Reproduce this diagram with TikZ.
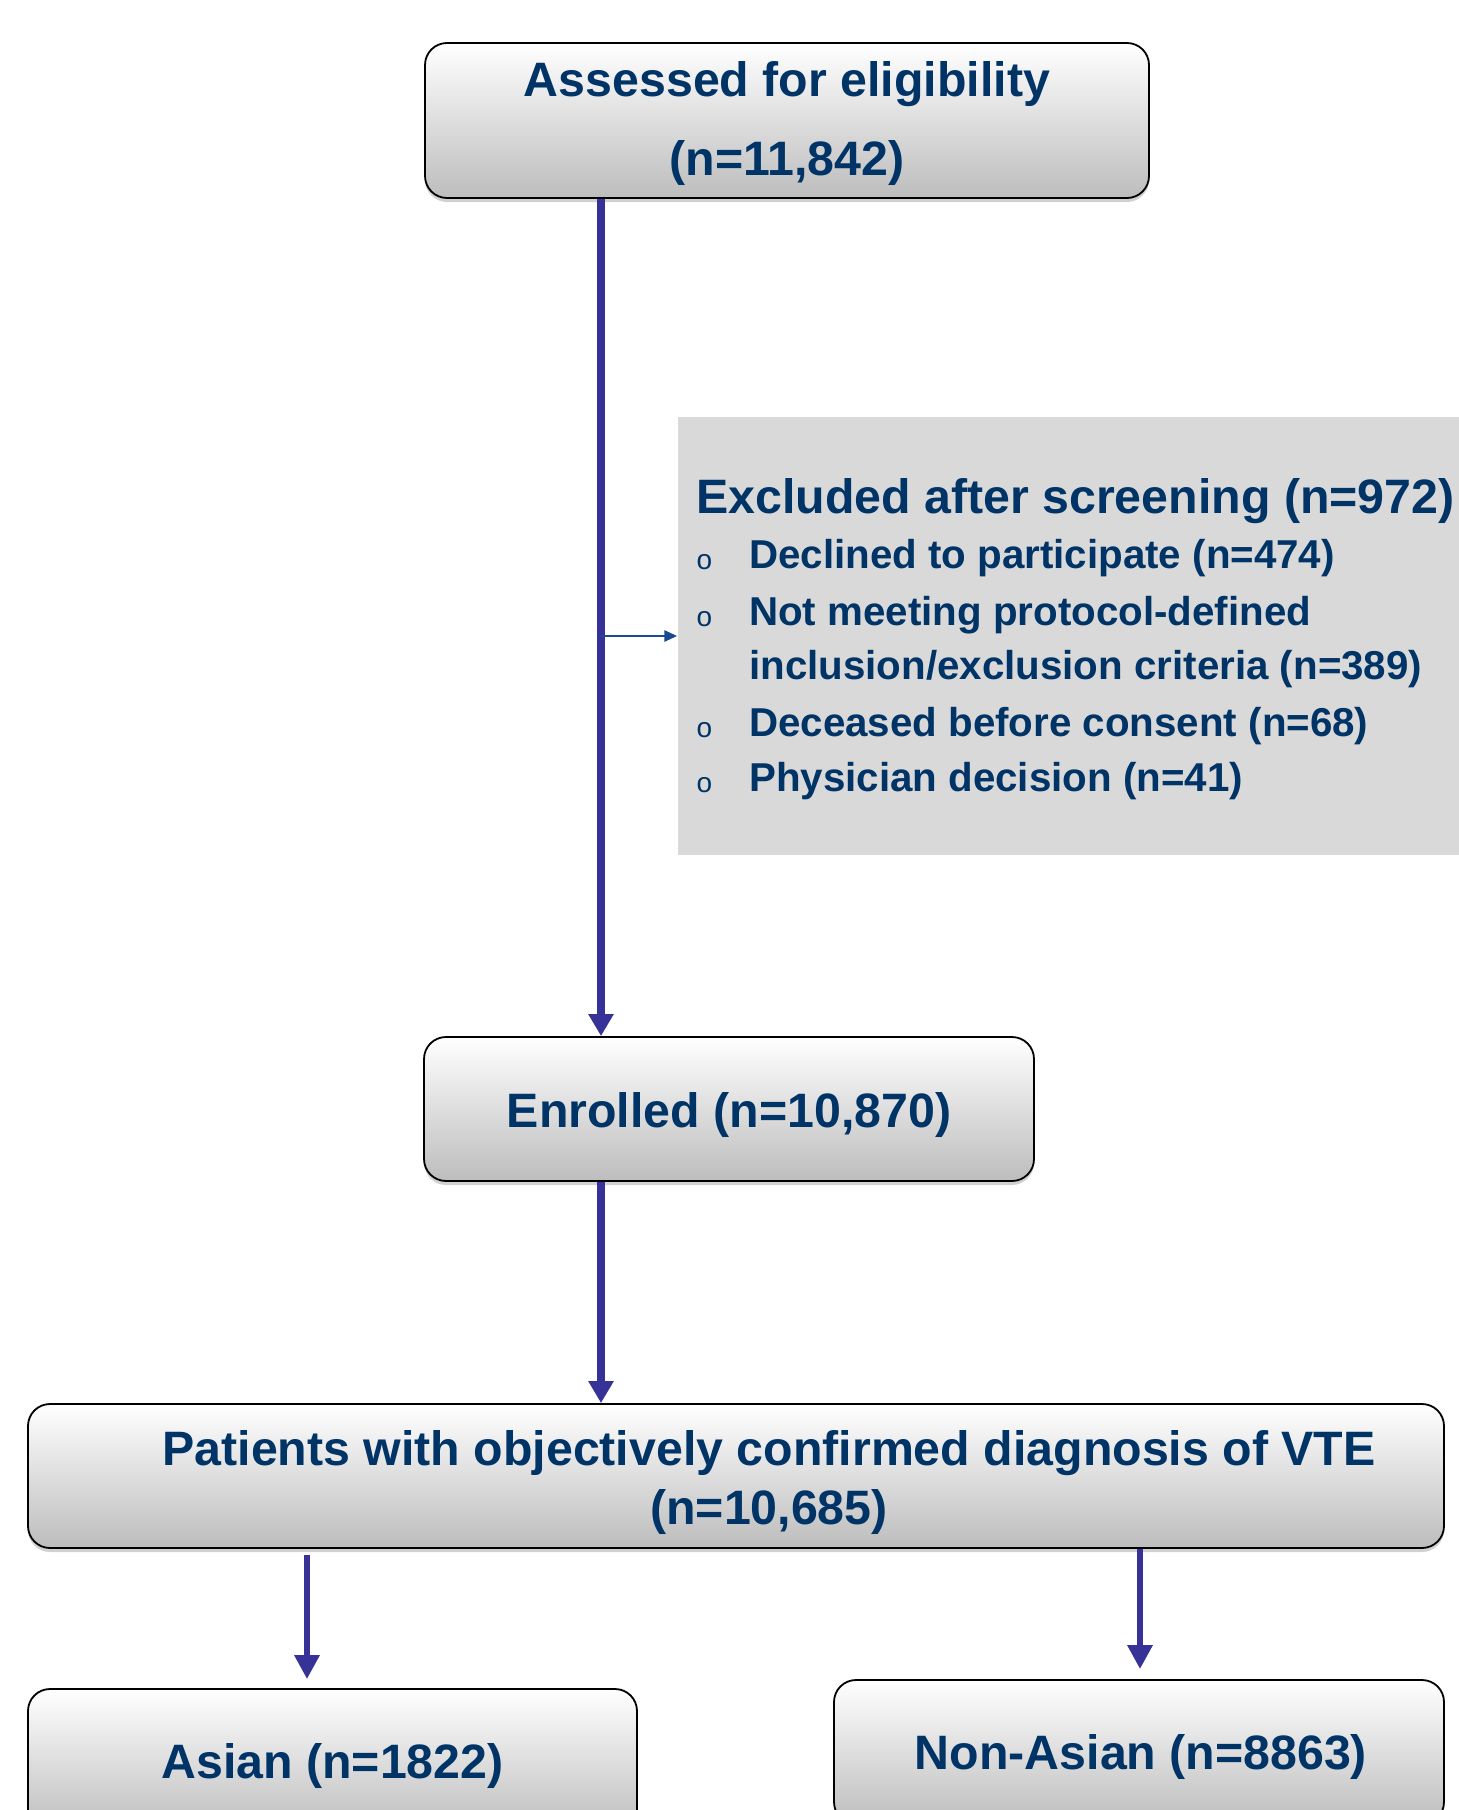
\documentclass[tikz,border=0pt]{standalone}
\usepackage{fontspec}
\setmainfont{Liberation Sans}
\usetikzlibrary{arrows.meta,shadows}
\definecolor{navy}{RGB}{0,51,102}
\definecolor{flow}{RGB}{55,50,152}
\definecolor{thinblue}{RGB}{25,75,145}
\definecolor{exgray}{RGB}{217,217,217}
\begin{document}
\begin{tikzpicture}[x=1pt,y=-1pt,
  flowbox/.style={draw=black, line width=1.8pt, rounded corners=22pt,
    top color=white, bottom color=black!26,
    drop shadow={shadow xshift=0pt, shadow yshift=-4pt, opacity=0.3, fill=black!60},
    inner sep=0pt},
  bigtxt/.style={font=\bfseries\fontsize{48.3}{58}\selectfont, text=navy, inner sep=0pt, anchor=base},
  itemtxt/.style={font=\bfseries\fontsize{40.3}{48}\selectfont, text=navy, inner sep=0pt, anchor=base west},
  bullettxt/.style={font=\fontsize{28}{32}\selectfont, text=navy, inner sep=0pt, anchor=base},
  mainarrow/.style={draw=flow, line width=7.5pt, -{Triangle[length=22pt,width=24pt]}},
  subarrow/.style={draw=flow, line width=6pt, -{Triangle[length=24pt,width=24pt]}},
  exarrow/.style={draw=thinblue, line width=2.8pt, -{Triangle[length=13pt,width=11pt]}}]
\useasboundingbox (0,0) rectangle (1459,1810);
\begin{scope}
\clip (0,0) rectangle (1459,1810);
% boxes
\node[flowbox, minimum width=724pt, minimum height=155pt] (topbox) at (787,120.5) {};
\node[flowbox, minimum width=610pt, minimum height=144pt] (enr) at (729,1109) {};
\node[flowbox, minimum width=1416pt, minimum height=144pt] (pat) at (736,1476) {};
\node[flowbox, minimum width=609pt, minimum height=144pt] (asian) at (332.5,1761) {};
\node[flowbox, minimum width=610pt, minimum height=144pt] (nonasian) at (1139,1752) {};
\node[fill=exgray, minimum width=792.5pt, minimum height=438pt, inner sep=0pt] (excl) at (1073.75,636) {};
% texts
\node[bigtxt] (t1) at (787,96.7) {Assessed for eligibility};
\node[bigtxt] (t2) at (787,175) {(n=11,842)};
\node[bigtxt] (t3) at (729,1127) {Enrolled (n=10,870)};
\node[bigtxt] (t4) at (769,1465) {Patients with objectively confirmed diagnosis of VTE};
\node[bigtxt] (t5) at (769,1524) {(n=10,685)};
\node[bigtxt] (t6) at (332.5,1778) {Asian (n=1822)};
\node[bigtxt] (t7) at (1141,1769) {Non-Asian (n=8863)};
\node[bigtxt, anchor=base west] (ex0) at (696,513) {Excluded after screening (n=972)};
\node[bullettxt] (b1) at (704.5,569) {o};
\node[itemtxt] (ex1) at (749,568) {Declined to participate (n=474)};
\node[bullettxt] (b2) at (704.5,626) {o};
\node[itemtxt] (ex2) at (749,625) {Not meeting protocol-defined};
\node[itemtxt] (ex2b) at (749,679) {inclusion/exclusion criteria (n=389)};
\node[bullettxt] (b3) at (704.5,737) {o};
\node[itemtxt] (ex3) at (749,736) {Deceased before consent (n=68)};
\node[bullettxt] (b4) at (704.5,792) {o};
\node[itemtxt] (ex4) at (749,791) {Physician decision (n=41)};
% connectors
\coordinate (mx) at (601,0);
\coordinate (lx) at (307,0);
\coordinate (rx) at (1140,0);
\draw[mainarrow] (topbox.south -| mx) -- (enr.north -| mx);
\draw[exarrow] (mx |- excl.west) -- (excl.west);
\draw[mainarrow] (enr.south -| mx) -- (pat.north -| mx);
\draw[subarrow, shorten <=6pt, shorten >=9pt] (pat.south -| lx) -- (asian.north -| lx);
\draw[subarrow, shorten >=10pt] (pat.south -| rx) -- (nonasian.north -| rx);
\end{scope}
\end{tikzpicture}
\end{document}
